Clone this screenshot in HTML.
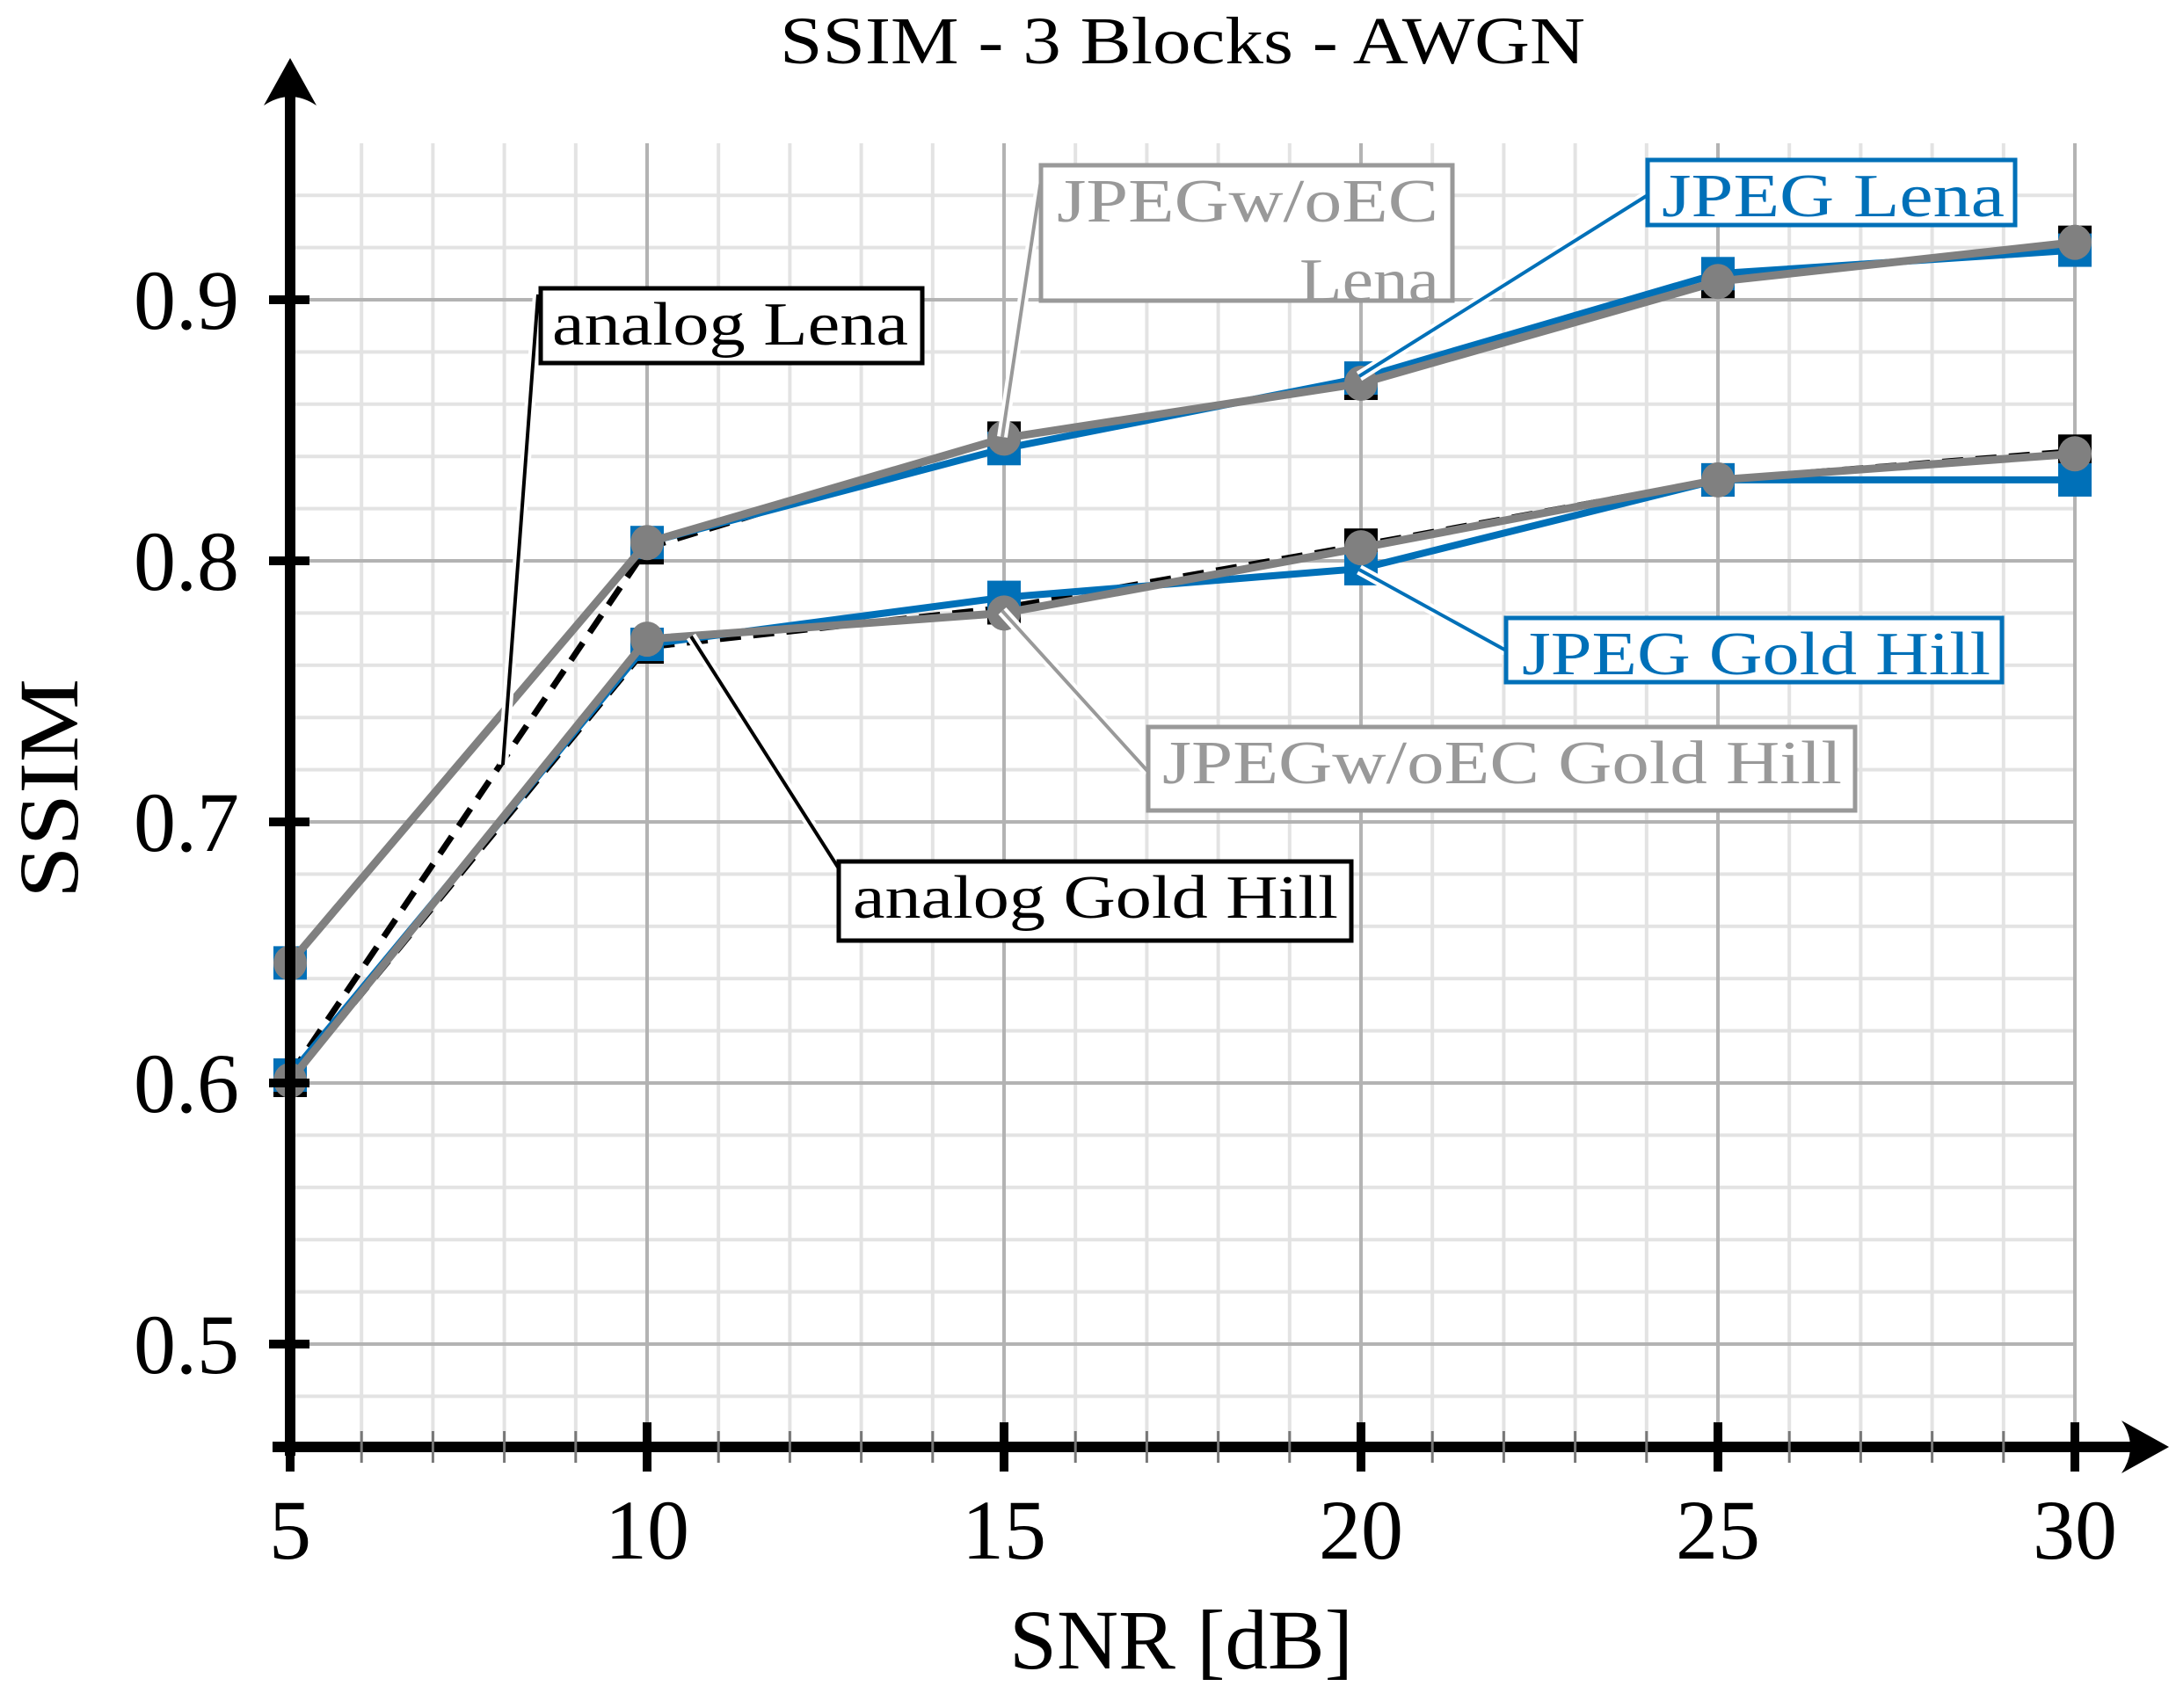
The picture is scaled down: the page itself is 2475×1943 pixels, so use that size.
<!DOCTYPE html>
<html><head><meta charset="utf-8"><style>
html,body{margin:0;padding:0;background:#fff;}
svg{display:block;font-family:"Liberation Serif","DejaVu Serif",serif;}
</style></head><body>
<svg id="chart" width="2475" height="1943" viewBox="0 0 2475 1943" xmlns="http://www.w3.org/2000/svg">
<text x="887" y="72" font-size="76" textLength="916" lengthAdjust="spacingAndGlyphs">SSIM - 3 Blocks - AWGN</text>
<text x="1148" y="1898" font-size="96" textLength="391" lengthAdjust="spacingAndGlyphs">SNR [dB]</text>
<text transform="translate(88,1022) rotate(-90)" font-size="96" textLength="250" lengthAdjust="spacingAndGlyphs">SSIM</text>
<g id="grid"></g><g id="series"></g><g id="axes"></g><g id="labels"></g>
</svg>
<script>
const snr = [5, 10, 15, 20, 25, 30];
const xTicks = ["5","10","15","20","25","30"];
const yTicks = [0.5, 0.6, 0.7, 0.8, 0.9];
const yTickLabels = ["0.5","0.6","0.7","0.8","0.9"];
const analogLena = [0.603, 0.805, 0.847, 0.868, 0.907, 0.922];
const analogGold = [0.601, 0.767, 0.782, 0.806, 0.831, 0.842];
const jpegLena = [0.646, 0.807, 0.843, 0.870, 0.910, 0.919];
const jpegGold = [0.603, 0.768, 0.786, 0.797, 0.831, 0.831];
const woecLena = [0.646, 0.807, 0.847, 0.868, 0.907, 0.922];
const woecGold = [0.601, 0.770, 0.780, 0.805, 0.831, 0.841];

const NS = "http://www.w3.org/2000/svg";
function X(v){ return 330 + (v - 5) * 81.2; }
function Y(v){ return 1529 - (v - 0.5) * 2970; }
function mk(parent, tag, attrs){
  const e = document.createElementNS(NS, tag);
  for (const k in attrs) e.setAttribute(k, attrs[k]);
  parent.appendChild(e); return e;
}
const grid = document.getElementById('grid');
const series = document.getElementById('series');
const axes = document.getElementById('axes');
const labels = document.getElementById('labels');
const yTop = 163, yBot = 1646, xR = X(30);
for (let s = 6; s <= 30; s++) {
  if (s % 5 === 0) continue;
  const l = mk(grid, 'line', {x1:X(s), x2:X(s), y1:yTop, y2:yBot, stroke:'#e3e3e3', 'stroke-width':4});
  
  
}
for (let i = 0; i < 26; i++) {
  const v = 0.46 + i * 0.02;
  if (Math.abs((v * 10) - Math.round(v * 10)) < 1e-6) continue;
  if (Y(v) < yTop) continue;
  const l = mk(grid, 'line', {x1:330, x2:xR, y1:Y(v), y2:Y(v), stroke:'#e3e3e3', 'stroke-width':4});
  
  
}
snr.forEach((s) => {
  if (s === 5) return;
  const l = mk(grid, 'line', {x1:X(s), x2:X(s), y1:yTop, y2:yBot, stroke:'#b3b3b3', 'stroke-width':4});
  
  
});
yTicks.forEach((v) => {
  const l = mk(grid, 'line', {x1:330, x2:xR, y1:Y(v), y2:Y(v), stroke:'#b3b3b3', 'stroke-width':4});
  
  
});
function drawSeries(vals, color, width, dash, marker, name){
  const g = mk(series, 'g', {});
  
  
  const pts = vals.map((v, i) => X(snr[i]) + ',' + Y(v)).join(' ');
  const attrs = {points:pts, fill:'none', stroke:color, 'stroke-width':width, 'stroke-linejoin':'round'};
  if (dash) attrs['stroke-dasharray'] = dash;
  mk(g, 'polyline', attrs);
  vals.forEach((v, i) => {
    let m;
    if (marker === 'square') m = mk(g, 'rect', {x:X(snr[i]) - 19, y:Y(v) - 19, width:38, height:38, fill:color});
    else m = mk(g, 'ellipse', {cx:X(snr[i]), cy:Y(v), rx:19, ry:20, fill:color});
    
    
  });
}
drawSeries(analogLena, '#000', 7, '24,14', 'square', 'analog-lena-series');
drawSeries(analogGold, '#000', 7, '24,14', 'square', 'analog-gold-hill-series');
drawSeries(jpegLena, '#0070b8', 8, null, 'square', 'jpeg-lena-series');
drawSeries(jpegGold, '#0070b8', 8, null, 'square', 'jpeg-gold-hill-series');
drawSeries(woecLena, '#808080', 9, null, 'circle', 'jpeg-woec-lena-series');
drawSeries(woecGold, '#808080', 9, null, 'circle', 'jpeg-woec-gold-hill-series');
const ya = mk(axes, 'line', {x1:330, x2:330, y1:yBot + 10, y2:95, stroke:'#000', 'stroke-width':12});
 
const yar = mk(axes, 'path', {d:'M330,66 L300,120 Q330,100 360,120 Z', fill:'#000'});
 
const xa = mk(axes, 'line', {x1:310, x2:2430, y1:yBot, y2:yBot, stroke:'#000', 'stroke-width':12});
 
const xar = mk(axes, 'path', {d:'M2467,1646 L2413,1616 Q2433,1646 2413,1676 Z', fill:'#000'});
 
snr.forEach((s, i) => {
  mk(axes, 'line', {x1:X(s), x2:X(s), y1:yBot - 28, y2:yBot + 28, stroke:'#000', 'stroke-width':10});
  const t = mk(axes, 'text', {x:X(s), y:1773, 'font-size':96, 'text-anchor':'middle'});
  t.textContent = xTicks[i];
  
  
});
for (let s = 6; s <= 30; s++) if (s % 5) mk(axes, 'line', {x1:X(s), x2:X(s), y1:yBot - 18, y2:yBot + 18, stroke:'#777', 'stroke-width':3});
yTicks.forEach((v, i) => {
  mk(axes, 'line', {x1:306, x2:352, y1:Y(v), y2:Y(v), stroke:'#000', 'stroke-width':10});
  const t = mk(axes, 'text', {x:272, y:Y(v) + 33, 'font-size':96, 'text-anchor':'end'});
  t.textContent = yTickLabels[i];
  
  
});
function label(name, lines, bx, by, bw, bh, color, lx1, ly1, lx2, ly2, tx, tl){
  const g = mk(labels, 'g', {});
  
  
  mk(g, 'line', {x1:lx1, y1:ly1, x2:lx2, y2:ly2, stroke:'#fff', 'stroke-width':12});
  mk(g, 'line', {x1:lx1, y1:ly1, x2:lx2, y2:ly2, stroke:color, 'stroke-width':4});
  mk(g, 'rect', {x:bx, y:by, width:bw, height:bh, fill:'#fff', stroke:color, 'stroke-width':5});
  lines.forEach((ln, i) => {
    const t = mk(g, 'text', {x:tx[i], y: by + 64 + i * 90, 'font-size':70, fill:color, textLength:tl[i], lengthAdjust:'spacingAndGlyphs'});
    t.textContent = ln;
  });
}
label('analog-lena-label', ['analog Lena'], 615, 328, 434, 85, '#000', 612, 335, 572, 870, [628], [405]);
label('jpeg-woec-lena-label', ['JPEGw/oEC', 'Lena'], 1184, 188, 468, 154, '#999', 1184, 205, 1140, 497, [1202, 1478], [434, 159]);
label('jpeg-lena-label', ['JPEG Lena'], 1874, 182, 418, 74, '#0070b8', 1874, 222, 1546, 428, [1890], [390]);
label('jpeg-gold-hill-label', ['JPEG Gold Hill'], 1713, 703, 564, 73, '#0070b8', 1713, 740, 1546, 648, [1731], [533]);
label('jpeg-woec-gold-hill-label', ['JPEGw/oEC Gold Hill'], 1306, 827, 804, 95, '#999', 1306, 878, 1140, 695, [1322], [773]);
label('analog-gold-hill-label', ['analog Gold Hill'], 954, 980, 583, 90, '#000', 954, 988, 786, 724, [970], [552]);
</script>
</body></html>
